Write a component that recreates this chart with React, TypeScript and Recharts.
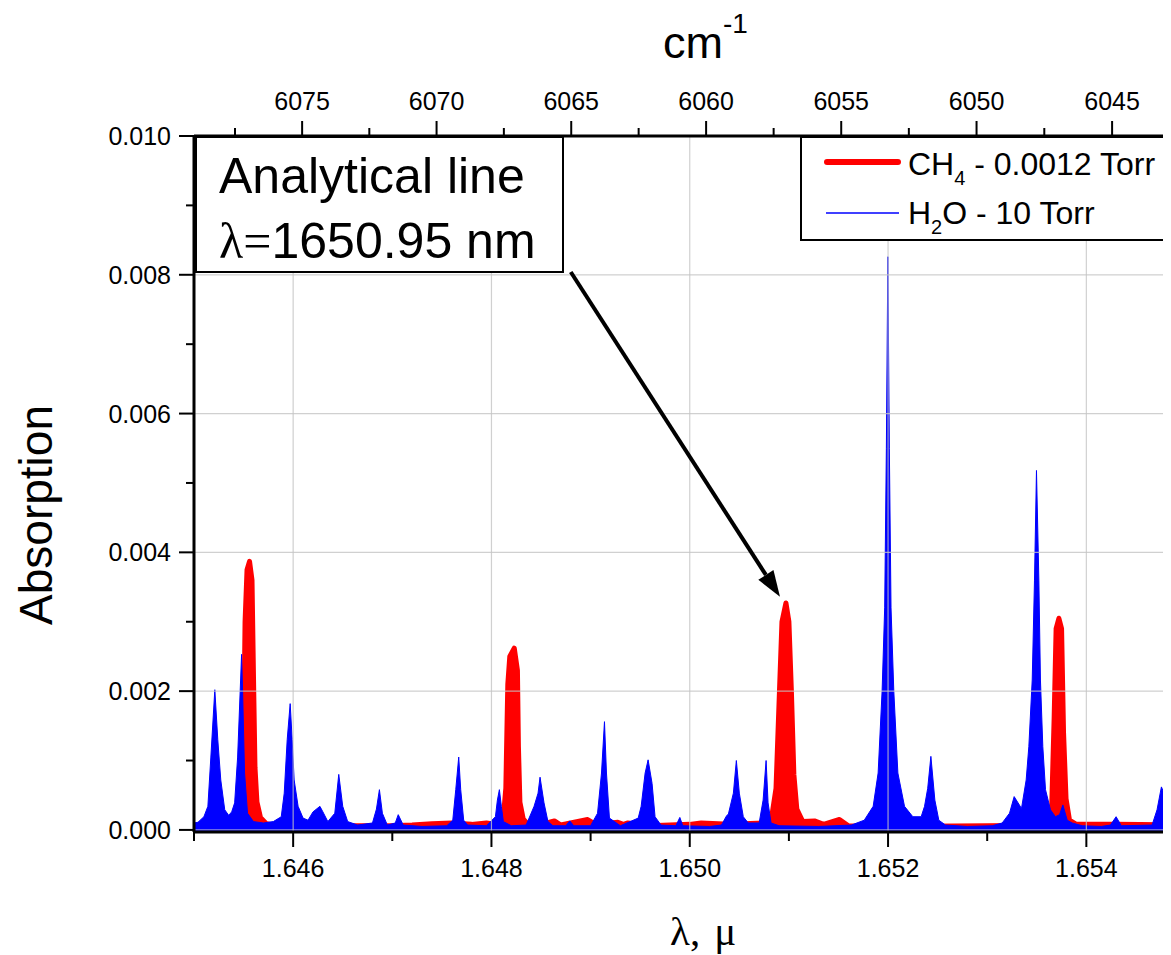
// CH4 / H2O absorption around the 1650.95 nm analytical line
import { ComposedChart, Area, XAxis, YAxis, ReferenceLine, Label } from 'recharts'

// H2O, 10 Torr — wavelength (μm) and absorption
const h2oWavelength = [
  1.645, 1.64504, 1.6451, 1.64514, 1.64517, 1.64521, 1.64524, 1.64527, 1.64531, 1.64535,
  1.64538, 1.64541, 1.64544, 1.64547, 1.64548, 1.64549, 1.64551, 1.64554, 1.6456, 1.6457,
  1.6458, 1.64588, 1.64591, 1.64594, 1.64597, 1.64599, 1.64601, 1.64605, 1.6461, 1.64615,
  1.6462, 1.64627, 1.6463, 1.64635, 1.64642, 1.64646, 1.6465, 1.64655, 1.64665, 1.6468,
  1.64684, 1.64687, 1.6469, 1.64695, 1.64703, 1.64706, 1.64711, 1.6473, 1.64755, 1.64761,
  1.64764, 1.64767, 1.64769, 1.64772, 1.64776, 1.64795, 1.64804, 1.64806, 1.64808, 1.6481,
  1.64812, 1.6482, 1.64835, 1.64843, 1.64847, 1.64849, 1.64853, 1.64857, 1.64862, 1.64875,
  1.64879, 1.64883, 1.649, 1.64907, 1.64911, 1.64914, 1.64916, 1.64919, 1.6493, 1.64948,
  1.64951, 1.64955, 1.64958, 1.64962, 1.64965, 1.64971, 1.64986, 1.6499, 1.64993, 1.6502,
  1.65032, 1.65037, 1.65039, 1.65044, 1.65047, 1.6505, 1.65054, 1.65059, 1.6507, 1.65074,
  1.65077, 1.65079, 1.65082, 1.6509, 1.6513, 1.65163, 1.65176, 1.65185, 1.6519, 1.65194,
  1.651966, 1.651983, 1.651998, 1.652013, 1.65203, 1.652058, 1.652099, 1.652166, 1.65225, 1.652334,
  1.652368, 1.6524, 1.652432, 1.652472, 1.652512, 1.652579, 1.6528, 1.65305, 1.653151, 1.653225,
  1.653272, 1.653346, 1.653393, 1.65342, 1.653454, 1.653477, 1.653497, 1.653521, 1.653537, 1.653561,
  1.653588, 1.653638, 1.653688, 1.65373, 1.653763, 1.653807, 1.653857, 1.653958, 1.65415, 1.654243,
  1.6543, 1.654353, 1.654663, 1.654713, 1.654757, 1.654797, 1.654848, 1.655,
]
const h2oAbsorption = [
  0.0001, 0.00011, 0.00019, 0.00034, 0.00105, 0.00202, 0.0013, 0.00072, 0.00029, 0.00021,
  0.00026, 0.00039, 0.00105, 0.00216, 0.00253, 0.002, 0.00082, 0.00024, 0.00012, 0.0001,
  0.00012, 0.00019, 0.00053, 0.0013, 0.00182, 0.0013, 0.00072, 0.00034, 0.00017, 0.00014,
  0.00026, 0.00034, 0.00026, 0.00012, 0.00024, 0.0008, 0.00034, 0.00012, 0.00007, 0.0001,
  0.0003, 0.00058, 0.00024, 0.00007, 0.0001, 0.00022, 0.00007, 0.00005, 0.00006, 0.00014,
  0.00058, 0.00105, 0.00058, 0.00014, 0.00007, 0.00006, 0.00019, 0.00043, 0.00058, 0.00034,
  0.00012, 0.00006, 0.00007, 0.00034, 0.00053, 0.00076, 0.00039, 0.00012, 0.00006, 0.00006,
  0.00013, 0.00006, 0.00006, 0.00024, 0.00082, 0.00156, 0.00082, 0.00017, 0.00006, 0.00017,
  0.00034, 0.00082, 0.00101, 0.00067, 0.00019, 0.00007, 0.00006, 0.00018, 0.00006, 0.00005,
  0.00007, 0.0002, 0.00023, 0.00053, 0.001, 0.00053, 0.00019, 0.0001, 0.0001, 0.00043,
  0.001, 0.00039, 0.0001, 0.00006, 0.00005, 0.00007, 0.00014, 0.00034, 0.00082, 0.002,
  0.0032, 0.0055, 0.00826, 0.0055, 0.0032, 0.002, 0.00082, 0.00034, 0.00019, 0.00019,
  0.00034, 0.0006, 0.00106, 0.00043, 0.00014, 0.00007, 0.00005, 0.00006, 0.0001, 0.00024,
  0.00048, 0.00031, 0.00072, 0.0012, 0.00216, 0.0036, 0.00518, 0.0036, 0.00216, 0.0012,
  0.00058, 0.00029, 0.00019, 0.00022, 0.00036, 0.00014, 0.0001, 0.00006, 0.00005, 0.00007,
  0.00019, 0.00006, 0.00007, 0.00029, 0.00062, 0.00048, 0.00014, 0.0001,
]

// CH4, 0.0012 Torr
const ch4Wavelength = [
  1.645, 1.6453, 1.64542, 1.64548, 1.6455, 1.645515, 1.645535, 1.64556, 1.645585, 1.6456,
  1.645615, 1.645635, 1.64567, 1.64573, 1.64585, 1.646, 1.647, 1.6472, 1.6474, 1.6476,
  1.6478, 1.64795, 1.64805, 1.64812, 1.648145, 1.648165, 1.648185, 1.64823, 1.648262, 1.648272,
  1.648287, 1.64832, 1.64837, 1.6485, 1.648635, 1.6487, 1.64897, 1.64905, 1.649275, 1.64933,
  1.649376, 1.6496, 1.65, 1.650115, 1.6504, 1.65076, 1.65083, 1.65087, 1.650905, 1.65093,
  1.65097, 1.651, 1.651025, 1.65105, 1.65108, 1.65114, 1.651258, 1.65135, 1.65151, 1.6516,
  1.652, 1.653, 1.6536, 1.65365, 1.653675, 1.653695, 1.653723, 1.65375, 1.65377, 1.653795,
  1.65383, 1.6539, 1.6543, 1.655,
]
const ch4Absorption = [
  0.00004, 0.00005, 0.00008, 0.0003, 0.0012, 0.003, 0.00375, 0.00387, 0.0036, 0.0022,
  0.0009, 0.0004, 0.00018, 0.00009, 0.00006, 0.00006, 0.00006, 0.00007, 0.00009, 0.0001,
  0.00008, 0.0001, 0.00008, 0.00018, 0.0006, 0.0021, 0.0025, 0.00262, 0.0023, 0.0012,
  0.0004, 0.00016, 0.00008, 0.00008, 0.00013, 0.00007, 0.00015, 0.00008, 0.00011, 0.00008,
  0.0001, 0.00006, 0.00008, 0.0001, 0.00008, 0.0001, 0.00022, 0.0006, 0.002, 0.003,
  0.00327, 0.003, 0.002, 0.0008, 0.0003, 0.00012, 0.00013, 0.00008, 0.00015, 0.00006,
  0.00005, 0.00006, 0.00007, 0.0003, 0.0016, 0.0029, 0.00305, 0.0029, 0.0014, 0.00045,
  0.00014, 0.00008, 0.00008, 0.00007,
]

const lambdaTicks = [1.645, 1.646, 1.647, 1.648, 1.649, 1.65, 1.651, 1.652, 1.653, 1.654, 1.655]
const wavenumberTicks = [6077.5, 6075, 6072.5, 6070, 6067.5, 6065, 6062.5, 6060, 6057.5, 6055, 6052.5, 6050, 6047.5, 6045, 6042.5]
const absorptionTicks = [0, 0.001, 0.002, 0.003, 0.004, 0.005, 0.006, 0.007, 0.008, 0.009, 0.01]
const gridLambda = [1.646, 1.648, 1.65, 1.652, 1.654]
const gridAbsorption = [0.002, 0.004, 0.006, 0.008]

// arrow from the text box to the analytical CH4 line
const arrowFrom = { x: 1.6488, y: 0.00804 }
const arrowTo = { x: 1.65091, y: 0.00336 }

const FONT = "'Liberation Sans', Arial, sans-serif"
const SERIF = "'Liberation Serif', 'Times New Roman', serif"
const GRID = '#c4c4c4'

type Row = { lambda: number; h2o: number | null; ch4: number | null }

function buildRows(): Row[] {
  const rows = new Map<number, Row>()
  const get = (l: number) => {
    let r = rows.get(l)
    if (!r) {
      r = { lambda: l, h2o: null, ch4: null }
      rows.set(l, r)
    }
    return r
  }
  h2oWavelength.forEach((l, i) => { get(l).h2o = h2oAbsorption[i] })
  ch4Wavelength.forEach((l, i) => { get(l).ch4 = ch4Absorption[i] })
  return [...rows.values()].sort((a, b) => a.lambda - b.lambda)
}

const rows = buildRows()
const topTicks = wavenumberTicks.map((n) => 1e4 / n)

function LambdaTick({ x, y, payload }: any) {
  const v = payload.value
  const major = Math.round(v * 1000) % 2 === 0
  return (
    <g>
      <line x1={x} x2={x} y1={y} y2={y + (major ? 15 : 9)} stroke="#000" strokeWidth={2} />
      {major && (
        <text x={x} y={y + 45} textAnchor="middle" fontSize={25} fontFamily={FONT} fill="#000">
          {v.toFixed(3)}
        </text>
      )}
    </g>
  )
}

function WavenumberTick({ x, y, payload }: any) {
  const nu = 1e4 / payload.value
  const major = Math.abs(nu / 5 - Math.round(nu / 5)) < 0.01
  return (
    <g>
      <line x1={x} x2={x} y1={y} y2={y - (major ? 15 : 8)} stroke="#000" strokeWidth={2} />
      {major && (
        <text x={x} y={y - 26} textAnchor="middle" fontSize={25} fontFamily={FONT} fill="#000">
          {Math.round(nu)}
        </text>
      )}
    </g>
  )
}

function AbsorptionTick({ x, y, payload }: any) {
  const v = payload.value
  const major = Math.round(v * 1000) % 2 === 0
  return (
    <g>
      <line x1={x} x2={x - (major ? 15 : 8)} y1={y} y2={y} stroke="#000" strokeWidth={2} />
      {major && (
        <text x={x - 23} y={y + 9} textAnchor="end" fontSize={25} fontFamily={FONT} fill="#000">
          {v.toFixed(3)}
        </text>
      )}
    </g>
  )
}

function Arrow({ x1, y1, x2, y2 }: any) {
  const len = Math.hypot(x2 - x1, y2 - y1)
  const ux = (x2 - x1) / len
  const uy = (y2 - y1) / len
  const head = 26
  const half = 9
  const bx = x2 - ux * head
  const by = y2 - uy * head
  return (
    <g>
      <line x1={x1} y1={y1} x2={bx} y2={by} stroke="#000" strokeWidth={4} />
      <polygon
        points={`${x2},${y2} ${bx - uy * half},${by + ux * half} ${bx + uy * half},${by - ux * half}`}
        fill="#000"
      />
    </g>
  )
}

export default function App() {
  return (
    <div style={{ position: 'relative', width: 1163, height: 946, overflow: 'hidden' }}>
      <ComposedChart
        width={1200}
        height={946}
        data={rows}
        margin={{ top: 0, right: 22.5, bottom: 0, left: 0 }}
      >
        <XAxis
          xAxisId="bottom"
          type="number"
          dataKey="lambda"
          domain={[1.645, 1.655]}
          allowDataOverflow
          ticks={lambdaTicks}
          interval={0}
          tick={<LambdaTick />}
          tickLine={false}
          tickSize={0}
          tickMargin={0}
          height={122}
          axisLine={{ stroke: '#000', strokeWidth: 3 }}
        >
          <Label
            content={() => (
              <text x={662} y={937} fontSize={41} fontFamily={SERIF} fill="#000">
                λ,<tspan dx={14}>μ</tspan>
              </text>
            )}
          />
        </XAxis>
        <XAxis
          xAxisId="top"
          orientation="top"
          type="number"
          dataKey="lambda"
          domain={[1.645, 1.655]}
          allowDataOverflow
          ticks={topTicks}
          interval={0}
          tick={<WavenumberTick />}
          tickLine={false}
          tickSize={0}
          tickMargin={0}
          height={128}
          axisLine={{ stroke: '#000', strokeWidth: 3 }}
        >
          <Label
            content={() => (
              <text x={655} y={50} fontSize={45} fontFamily={FONT} fill="#000">
                cm
                <tspan dy={-25} fontSize={28}>-1</tspan>
              </text>
            )}
          />
        </XAxis>
        <YAxis
          type="number"
          domain={[-0.00003, 0.01]}
          allowDataOverflow
          ticks={absorptionTicks}
          interval={0}
          tick={<AbsorptionTick />}
          tickLine={false}
          tickSize={0}
          tickMargin={0}
          width={186}
          axisLine={{ stroke: '#000', strokeWidth: 3 }}
        >
          <Label
            content={() => (
              <text
                transform="translate(44,507) rotate(-90)"
                textAnchor="middle"
                fontSize={46}
                fontFamily={FONT}
                fill="#000"
              >
                Absorption
              </text>
            )}
          />
        </YAxis>

        <Area
          xAxisId="bottom"
          type="linear"
          dataKey="ch4"
          connectNulls
          baseValue="dataMin"
          stroke="#ff0000"
          strokeWidth={5}
          strokeLinejoin="round"
          fill="#ff0000"
          fillOpacity={1}
          dot={false}
          activeDot={false}
          isAnimationActive={false}
        />
        <Area
          xAxisId="bottom"
          type="linear"
          dataKey="h2o"
          connectNulls
          baseValue="dataMin"
          stroke="#0000ff"
          strokeWidth={1}
          fill="#0000ff"
          fillOpacity={1}
          dot={false}
          activeDot={false}
          isAnimationActive={false}
        />

        {gridLambda.map((v) => (
          <ReferenceLine key={`gx${v}`} xAxisId="bottom" x={v} stroke={GRID} strokeOpacity={0.8} strokeWidth={1.2} />
        ))}
        {gridAbsorption.map((v) => (
          <ReferenceLine key={`gy${v}`} xAxisId="bottom" y={v} stroke={GRID} strokeOpacity={0.8} strokeWidth={1.2} />
        ))}
        <ReferenceLine xAxisId="bottom" y={0} stroke="#b4b4d8" strokeWidth={1} />
        <ReferenceLine xAxisId="bottom" segment={[arrowFrom, arrowTo]} shape={Arrow} />
      </ComposedChart>

      <svg
        width={1163}
        height={946}
        style={{ position: 'absolute', left: 0, top: 0, pointerEvents: 'none' }}
      >
        <g>
          <rect x={188} y={129} width={367} height={135} fill="#fff" stroke="#000" strokeWidth={2} />
          <text x={211} y={185} fontSize={50} fontFamily={FONT} fill="#000">Analytical line</text>
          <text x={211} y={250} fontSize={50} fontFamily={FONT} fill="#000">
            <tspan fontFamily={SERIF}>λ=</tspan>
            <tspan>1650.95 nm</tspan>
          </text>
        </g>
        <g>
          <rect x={793} y={129} width={420} height={103} fill="#fff" stroke="#000" strokeWidth={2} />
          <line x1={819} x2={890} y1={154} y2={154} stroke="#ff0000" strokeWidth={6} strokeLinecap="round" />
          <text x={900} y={167} fontSize={32} fontFamily={FONT} fill="#000">
            CH<tspan dy={10} fontSize={20}>4</tspan>
            <tspan dy={-10}> - 0.0012 Torr</tspan>
          </text>
          <line x1={818} x2={891} y1={205} y2={205} stroke="#0000ff" strokeWidth={1.5} />
          <text x={900} y={216} fontSize={32} fontFamily={FONT} fill="#000">
            H<tspan dy={10} fontSize={20}>2</tspan>
            <tspan dy={-10}>O - 10 Torr</tspan>
          </text>
        </g>
      </svg>
    </div>
  )
}
